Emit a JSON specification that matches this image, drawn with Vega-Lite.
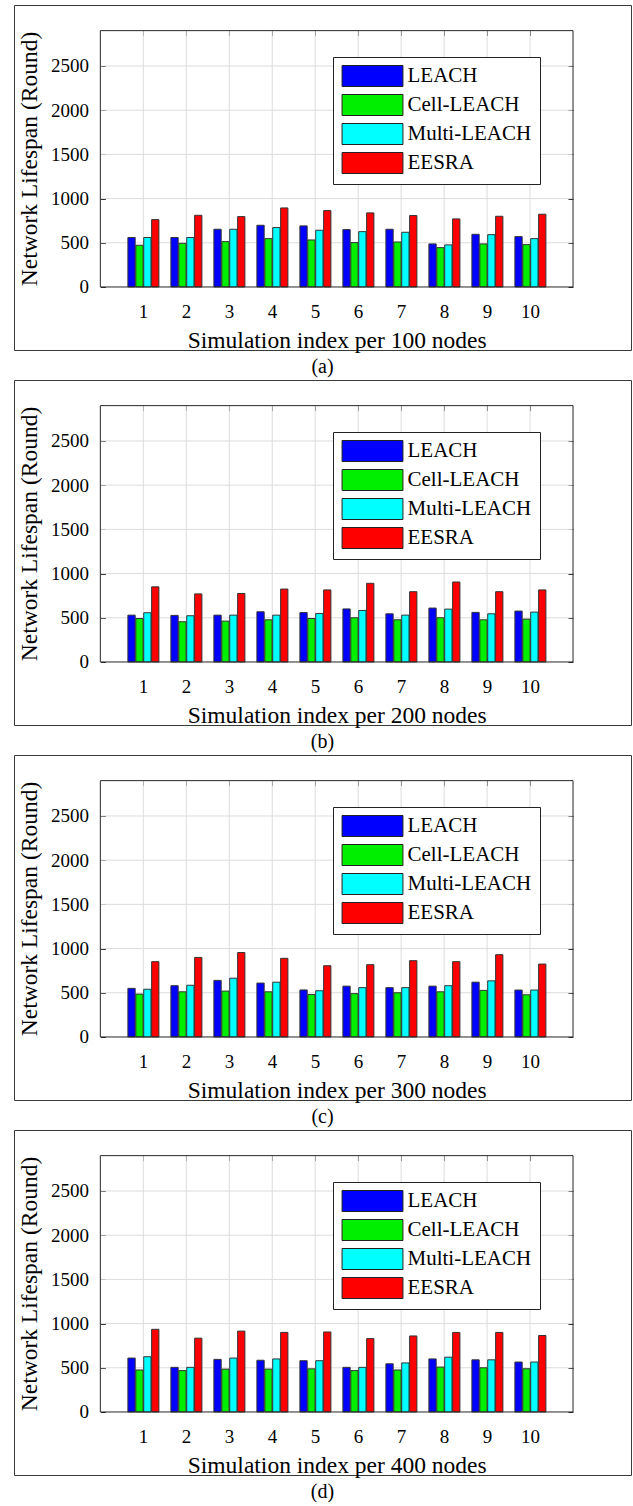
{
  "$schema": "https://vega.github.io/schema/vega-lite/v6.json",
  "padding": {"left": 13, "top": 4, "right": 3, "bottom": 0},
  "spacing": 2,
  "resolve": {"scale": {"color": "independent"}, "legend": {"color": "independent"}},
  "datasets": {
    "gridY": [{"v": 500}, {"v": 1000}, {"v": 1500}, {"v": 2000}, {"v": 2500}],
    "frame": [{"f": 1}],
    "lifespan": [
      {"nodes":100,"index":1,"protocol":"LEACH","value":560},{"nodes":100,"index":1,"protocol":"Cell-LEACH","value":472},{"nodes":100,"index":1,"protocol":"Multi-LEACH","value":560},{"nodes":100,"index":1,"protocol":"EESRA","value":762},
      {"nodes":100,"index":2,"protocol":"LEACH","value":560},{"nodes":100,"index":2,"protocol":"Cell-LEACH","value":494},{"nodes":100,"index":2,"protocol":"Multi-LEACH","value":560},{"nodes":100,"index":2,"protocol":"EESRA","value":811},
      {"nodes":100,"index":3,"protocol":"LEACH","value":653},{"nodes":100,"index":3,"protocol":"Cell-LEACH","value":513},{"nodes":100,"index":3,"protocol":"Multi-LEACH","value":653},{"nodes":100,"index":3,"protocol":"EESRA","value":796},
      {"nodes":100,"index":4,"protocol":"LEACH","value":698},{"nodes":100,"index":4,"protocol":"Cell-LEACH","value":547},{"nodes":100,"index":4,"protocol":"Multi-LEACH","value":672},{"nodes":100,"index":4,"protocol":"EESRA","value":894},
      {"nodes":100,"index":5,"protocol":"LEACH","value":691},{"nodes":100,"index":5,"protocol":"Cell-LEACH","value":532},{"nodes":100,"index":5,"protocol":"Multi-LEACH","value":642},{"nodes":100,"index":5,"protocol":"EESRA","value":864},
      {"nodes":100,"index":6,"protocol":"LEACH","value":649},{"nodes":100,"index":6,"protocol":"Cell-LEACH","value":502},{"nodes":100,"index":6,"protocol":"Multi-LEACH","value":626},{"nodes":100,"index":6,"protocol":"EESRA","value":838},
      {"nodes":100,"index":7,"protocol":"LEACH","value":653},{"nodes":100,"index":7,"protocol":"Cell-LEACH","value":509},{"nodes":100,"index":7,"protocol":"Multi-LEACH","value":619},{"nodes":100,"index":7,"protocol":"EESRA","value":808},
      {"nodes":100,"index":8,"protocol":"LEACH","value":487},{"nodes":100,"index":8,"protocol":"Cell-LEACH","value":445},{"nodes":100,"index":8,"protocol":"Multi-LEACH","value":476},{"nodes":100,"index":8,"protocol":"EESRA","value":770},
      {"nodes":100,"index":9,"protocol":"LEACH","value":596},{"nodes":100,"index":9,"protocol":"Cell-LEACH","value":487},{"nodes":100,"index":9,"protocol":"Multi-LEACH","value":592},{"nodes":100,"index":9,"protocol":"EESRA","value":800},
      {"nodes":100,"index":10,"protocol":"LEACH","value":570},{"nodes":100,"index":10,"protocol":"Cell-LEACH","value":479},{"nodes":100,"index":10,"protocol":"Multi-LEACH","value":547},{"nodes":100,"index":10,"protocol":"EESRA","value":823},

      {"nodes":200,"index":1,"protocol":"LEACH","value":530},{"nodes":200,"index":1,"protocol":"Cell-LEACH","value":492},{"nodes":200,"index":1,"protocol":"Multi-LEACH","value":557},{"nodes":200,"index":1,"protocol":"EESRA","value":850},
      {"nodes":200,"index":2,"protocol":"LEACH","value":527},{"nodes":200,"index":2,"protocol":"Cell-LEACH","value":455},{"nodes":200,"index":2,"protocol":"Multi-LEACH","value":523},{"nodes":200,"index":2,"protocol":"EESRA","value":770},
      {"nodes":200,"index":3,"protocol":"LEACH","value":530},{"nodes":200,"index":3,"protocol":"Cell-LEACH","value":462},{"nodes":200,"index":3,"protocol":"Multi-LEACH","value":530},{"nodes":200,"index":3,"protocol":"EESRA","value":775},
      {"nodes":200,"index":4,"protocol":"LEACH","value":568},{"nodes":200,"index":4,"protocol":"Cell-LEACH","value":477},{"nodes":200,"index":4,"protocol":"Multi-LEACH","value":530},{"nodes":200,"index":4,"protocol":"EESRA","value":825},
      {"nodes":200,"index":5,"protocol":"LEACH","value":559},{"nodes":200,"index":5,"protocol":"Cell-LEACH","value":492},{"nodes":200,"index":5,"protocol":"Multi-LEACH","value":549},{"nodes":200,"index":5,"protocol":"EESRA","value":815},
      {"nodes":200,"index":6,"protocol":"LEACH","value":600},{"nodes":200,"index":6,"protocol":"Cell-LEACH","value":500},{"nodes":200,"index":6,"protocol":"Multi-LEACH","value":583},{"nodes":200,"index":6,"protocol":"EESRA","value":890},
      {"nodes":200,"index":7,"protocol":"LEACH","value":545},{"nodes":200,"index":7,"protocol":"Cell-LEACH","value":477},{"nodes":200,"index":7,"protocol":"Multi-LEACH","value":530},{"nodes":200,"index":7,"protocol":"EESRA","value":795},
      {"nodes":200,"index":8,"protocol":"LEACH","value":610},{"nodes":200,"index":8,"protocol":"Cell-LEACH","value":500},{"nodes":200,"index":8,"protocol":"Multi-LEACH","value":598},{"nodes":200,"index":8,"protocol":"EESRA","value":905},
      {"nodes":200,"index":9,"protocol":"LEACH","value":561},{"nodes":200,"index":9,"protocol":"Cell-LEACH","value":477},{"nodes":200,"index":9,"protocol":"Multi-LEACH","value":545},{"nodes":200,"index":9,"protocol":"EESRA","value":795},
      {"nodes":200,"index":10,"protocol":"LEACH","value":576},{"nodes":200,"index":10,"protocol":"Cell-LEACH","value":485},{"nodes":200,"index":10,"protocol":"Multi-LEACH","value":564},{"nodes":200,"index":10,"protocol":"EESRA","value":815},

      {"nodes":300,"index":1,"protocol":"LEACH","value":550},{"nodes":300,"index":1,"protocol":"Cell-LEACH","value":485},{"nodes":300,"index":1,"protocol":"Multi-LEACH","value":540},{"nodes":300,"index":1,"protocol":"EESRA","value":852},
      {"nodes":300,"index":2,"protocol":"LEACH","value":580},{"nodes":300,"index":2,"protocol":"Cell-LEACH","value":511},{"nodes":300,"index":2,"protocol":"Multi-LEACH","value":585},{"nodes":300,"index":2,"protocol":"EESRA","value":900},
      {"nodes":300,"index":3,"protocol":"LEACH","value":640},{"nodes":300,"index":3,"protocol":"Cell-LEACH","value":519},{"nodes":300,"index":3,"protocol":"Multi-LEACH","value":665},{"nodes":300,"index":3,"protocol":"EESRA","value":955},
      {"nodes":300,"index":4,"protocol":"LEACH","value":610},{"nodes":300,"index":4,"protocol":"Cell-LEACH","value":511},{"nodes":300,"index":4,"protocol":"Multi-LEACH","value":620},{"nodes":300,"index":4,"protocol":"EESRA","value":890},
      {"nodes":300,"index":5,"protocol":"LEACH","value":532},{"nodes":300,"index":5,"protocol":"Cell-LEACH","value":481},{"nodes":300,"index":5,"protocol":"Multi-LEACH","value":523},{"nodes":300,"index":5,"protocol":"EESRA","value":806},
      {"nodes":300,"index":6,"protocol":"LEACH","value":575},{"nodes":300,"index":6,"protocol":"Cell-LEACH","value":490},{"nodes":300,"index":6,"protocol":"Multi-LEACH","value":558},{"nodes":300,"index":6,"protocol":"EESRA","value":818},
      {"nodes":300,"index":7,"protocol":"LEACH","value":558},{"nodes":300,"index":7,"protocol":"Cell-LEACH","value":500},{"nodes":300,"index":7,"protocol":"Multi-LEACH","value":558},{"nodes":300,"index":7,"protocol":"EESRA","value":863},
      {"nodes":300,"index":8,"protocol":"LEACH","value":575},{"nodes":300,"index":8,"protocol":"Cell-LEACH","value":511},{"nodes":300,"index":8,"protocol":"Multi-LEACH","value":580},{"nodes":300,"index":8,"protocol":"EESRA","value":852},
      {"nodes":300,"index":9,"protocol":"LEACH","value":620},{"nodes":300,"index":9,"protocol":"Cell-LEACH","value":527},{"nodes":300,"index":9,"protocol":"Multi-LEACH","value":635},{"nodes":300,"index":9,"protocol":"EESRA","value":931},
      {"nodes":300,"index":10,"protocol":"LEACH","value":531},{"nodes":300,"index":10,"protocol":"Cell-LEACH","value":477},{"nodes":300,"index":10,"protocol":"Multi-LEACH","value":531},{"nodes":300,"index":10,"protocol":"EESRA","value":825},

      {"nodes":400,"index":1,"protocol":"LEACH","value":610},{"nodes":400,"index":1,"protocol":"Cell-LEACH","value":475},{"nodes":400,"index":1,"protocol":"Multi-LEACH","value":625},{"nodes":400,"index":1,"protocol":"EESRA","value":935},
      {"nodes":400,"index":2,"protocol":"LEACH","value":505},{"nodes":400,"index":2,"protocol":"Cell-LEACH","value":468},{"nodes":400,"index":2,"protocol":"Multi-LEACH","value":505},{"nodes":400,"index":2,"protocol":"EESRA","value":835},
      {"nodes":400,"index":3,"protocol":"LEACH","value":595},{"nodes":400,"index":3,"protocol":"Cell-LEACH","value":485},{"nodes":400,"index":3,"protocol":"Multi-LEACH","value":610},{"nodes":400,"index":3,"protocol":"EESRA","value":915},
      {"nodes":400,"index":4,"protocol":"LEACH","value":585},{"nodes":400,"index":4,"protocol":"Cell-LEACH","value":485},{"nodes":400,"index":4,"protocol":"Multi-LEACH","value":600},{"nodes":400,"index":4,"protocol":"EESRA","value":900},
      {"nodes":400,"index":5,"protocol":"LEACH","value":580},{"nodes":400,"index":5,"protocol":"Cell-LEACH","value":488},{"nodes":400,"index":5,"protocol":"Multi-LEACH","value":580},{"nodes":400,"index":5,"protocol":"EESRA","value":905},
      {"nodes":400,"index":6,"protocol":"LEACH","value":505},{"nodes":400,"index":6,"protocol":"Cell-LEACH","value":468},{"nodes":400,"index":6,"protocol":"Multi-LEACH","value":505},{"nodes":400,"index":6,"protocol":"EESRA","value":830},
      {"nodes":400,"index":7,"protocol":"LEACH","value":545},{"nodes":400,"index":7,"protocol":"Cell-LEACH","value":475},{"nodes":400,"index":7,"protocol":"Multi-LEACH","value":555},{"nodes":400,"index":7,"protocol":"EESRA","value":860},
      {"nodes":400,"index":8,"protocol":"LEACH","value":600},{"nodes":400,"index":8,"protocol":"Cell-LEACH","value":508},{"nodes":400,"index":8,"protocol":"Multi-LEACH","value":620},{"nodes":400,"index":8,"protocol":"EESRA","value":900},
      {"nodes":400,"index":9,"protocol":"LEACH","value":590},{"nodes":400,"index":9,"protocol":"Cell-LEACH","value":500},{"nodes":400,"index":9,"protocol":"Multi-LEACH","value":590},{"nodes":400,"index":9,"protocol":"EESRA","value":900},
      {"nodes":400,"index":10,"protocol":"LEACH","value":565},{"nodes":400,"index":10,"protocol":"Cell-LEACH","value":489},{"nodes":400,"index":10,"protocol":"Multi-LEACH","value":565},{"nodes":400,"index":10,"protocol":"EESRA","value":865}
    ]
  },
  "config": {
    "font": "Liberation Serif",
    "view": {"stroke": "#3a3a3a", "strokeWidth": 1},
    "axis": {"labelFont": "Liberation Serif", "titleFont": "Liberation Serif", "labelFontSize": 19, "titleFontSize": 23.5, "titleFontWeight": "normal", "labelColor": "#000", "titleColor": "#000", "tickColor": "#262626", "domain": false, "grid": false},
    "title": {"font": "Liberation Serif", "fontSize": 20, "fontWeight": "normal", "color": "#000"}
  },
  "vconcat": [
    {
      "width": 617, "height": 345,
      "title": {"text": "(a)", "orient": "bottom", "offset": 5, "anchor": "middle"},
      "resolve": {"scale": {"x": "independent", "y": "independent"}},
      "layer": [
        {"data": {"name": "gridY"}, "mark": {"type": "rule", "color": "#dcdcdc", "strokeWidth": 1},
         "encoding": {"y": {"field": "v", "type": "quantitative", "scale": {"domain": [-713, 3190], "nice": false, "zero": false}, "axis": null},
                      "x": {"datum": 0, "type": "quantitative", "scale": {"domain": [-2.009, 12.349], "nice": false, "zero": false}, "axis": null},
                      "x2": {"datum": 11}}},
        {"data": {"name": "lifespan"}, "transform": [{"filter": "datum.nodes === 100 && datum.protocol === 'LEACH'"}],
         "mark": {"type": "rule", "color": "#dcdcdc", "strokeWidth": 1},
         "encoding": {"x": {"field": "index", "type": "quantitative", "scale": {"domain": [-2.009, 12.349], "nice": false, "zero": false}, "axis": null},
                      "y": {"datum": 0, "type": "quantitative", "scale": {"domain": [-713, 3190], "nice": false, "zero": false}, "axis": null},
                      "y2": {"datum": 2900}}},
        {"data": {"name": "lifespan"}, "transform": [{"filter": "datum.nodes === 100"}],
         "mark": {"type": "bar", "stroke": "#333", "strokeWidth": 1},
         "encoding": {
           "x": {"field": "index", "type": "ordinal", "scale": {"type": "band", "domain": [-1,0,1,2,3,4,5,6,7,8,9,10,11], "paddingInner": 0.279, "paddingOuter": 0.814, "align": 0.3986},
                 "axis": {"title": "Simulation index per 100 nodes", "orient": "bottom", "offset": -63, "values": [1,2,3,4,5,6,7,8,9,10], "labelAngle": 0, "bandPosition": 0.5, "tickSize": -5, "labelPadding": 20, "titleX": 322.7, "titleY": 41}},
           "xOffset": {"field": "protocol", "type": "nominal", "scale": {"domain": ["LEACH","Cell-LEACH","Multi-LEACH","EESRA"], "paddingInner": 0.08, "paddingOuter": 0}},
           "y": {"field": "value", "type": "quantitative", "scale": {"domain": [-713, 3190], "nice": false, "zero": false},
                 "axis": {"title": "Network Lifespan (Round)", "orient": "left", "offset": -86.4, "values": [0,500,1000,1500,2000,2500], "format": "d", "tickSize": -5, "labelPadding": 17, "titleX": -59, "titleY": 153.5}},
           "y2": {"datum": 0},
           "color": {"field": "protocol", "type": "nominal", "scale": {"domain": ["LEACH","Cell-LEACH","Multi-LEACH","EESRA"], "range": ["#0000ff","#00ee00","#00ffff","#ff0000"]},
                     "legend": {"orient": "none", "legendX": 319, "legendY": 52, "title": null, "symbolType": "M-2.9,-1H2.9V1H-2.9Z", "symbolSize": 441, "symbolStrokeColor": "#222", "symbolStrokeWidth": 1, "symbolOpacity": 1, "symbolOffset": 20.5, "labelOffset": 24, "labelFont": "Liberation Serif", "labelFontSize": 21, "labelColor": "#000", "rowPadding": 3, "padding": 8, "fillColor": "#ffffff", "strokeColor": "#222"}}
         }},
        {"data": {"name": "frame"}, "mark": {"type": "rect", "fillOpacity": 0, "stroke": "#262626", "strokeWidth": 1},
         "encoding": {"x": {"datum": 0, "type": "quantitative", "scale": {"domain": [-2.009, 12.349], "nice": false, "zero": false},
                            "axis": {"orient": "top", "offset": -25.6, "values": [1,2,3,4,5,6,7,8,9,10], "labels": false, "tickSize": -5, "title": null}},
                      "x2": {"datum": 11},
                      "y": {"datum": 0, "type": "quantitative", "scale": {"domain": [-713, 3190], "nice": false, "zero": false},
                            "axis": {"orient": "right", "offset": -58, "values": [0,500,1000,1500,2000,2500], "labels": false, "tickSize": -5, "title": null}},
                      "y2": {"datum": 2900}}}
      ]
    },
    {
      "width": 617, "height": 345,
      "title": {"text": "(b)", "orient": "bottom", "offset": 5, "anchor": "middle"},
      "resolve": {"scale": {"x": "independent", "y": "independent"}},
      "layer": [
        {"data": {"name": "gridY"}, "mark": {"type": "rule", "color": "#dcdcdc", "strokeWidth": 1},
         "encoding": {"y": {"field": "v", "type": "quantitative", "scale": {"domain": [-713, 3190], "nice": false, "zero": false}, "axis": null},
                      "x": {"datum": 0, "type": "quantitative", "scale": {"domain": [-2.009, 12.349], "nice": false, "zero": false}, "axis": null},
                      "x2": {"datum": 11}}},
        {"data": {"name": "lifespan"}, "transform": [{"filter": "datum.nodes === 200 && datum.protocol === 'LEACH'"}],
         "mark": {"type": "rule", "color": "#dcdcdc", "strokeWidth": 1},
         "encoding": {"x": {"field": "index", "type": "quantitative", "scale": {"domain": [-2.009, 12.349], "nice": false, "zero": false}, "axis": null},
                      "y": {"datum": 0, "type": "quantitative", "scale": {"domain": [-713, 3190], "nice": false, "zero": false}, "axis": null},
                      "y2": {"datum": 2900}}},
        {"data": {"name": "lifespan"}, "transform": [{"filter": "datum.nodes === 200"}],
         "mark": {"type": "bar", "stroke": "#333", "strokeWidth": 1},
         "encoding": {
           "x": {"field": "index", "type": "ordinal", "scale": {"type": "band", "domain": [-1,0,1,2,3,4,5,6,7,8,9,10,11], "paddingInner": 0.279, "paddingOuter": 0.814, "align": 0.3986},
                 "axis": {"title": "Simulation index per 200 nodes", "orient": "bottom", "offset": -63, "values": [1,2,3,4,5,6,7,8,9,10], "labelAngle": 0, "bandPosition": 0.5, "tickSize": -5, "labelPadding": 20, "titleX": 322.7, "titleY": 41}},
           "xOffset": {"field": "protocol", "type": "nominal", "scale": {"domain": ["LEACH","Cell-LEACH","Multi-LEACH","EESRA"], "paddingInner": 0.08, "paddingOuter": 0}},
           "y": {"field": "value", "type": "quantitative", "scale": {"domain": [-713, 3190], "nice": false, "zero": false},
                 "axis": {"title": "Network Lifespan (Round)", "orient": "left", "offset": -86.4, "values": [0,500,1000,1500,2000,2500], "format": "d", "tickSize": -5, "labelPadding": 17, "titleX": -59, "titleY": 153.5}},
           "y2": {"datum": 0},
           "color": {"field": "protocol", "type": "nominal", "scale": {"domain": ["LEACH","Cell-LEACH","Multi-LEACH","EESRA"], "range": ["#0000ff","#00ee00","#00ffff","#ff0000"]},
                     "legend": {"orient": "none", "legendX": 319, "legendY": 52, "title": null, "symbolType": "M-2.9,-1H2.9V1H-2.9Z", "symbolSize": 441, "symbolStrokeColor": "#222", "symbolStrokeWidth": 1, "symbolOpacity": 1, "symbolOffset": 20.5, "labelOffset": 24, "labelFont": "Liberation Serif", "labelFontSize": 21, "labelColor": "#000", "rowPadding": 3, "padding": 8, "fillColor": "#ffffff", "strokeColor": "#222"}}
         }},
        {"data": {"name": "frame"}, "mark": {"type": "rect", "fillOpacity": 0, "stroke": "#262626", "strokeWidth": 1},
         "encoding": {"x": {"datum": 0, "type": "quantitative", "scale": {"domain": [-2.009, 12.349], "nice": false, "zero": false},
                            "axis": {"orient": "top", "offset": -25.6, "values": [1,2,3,4,5,6,7,8,9,10], "labels": false, "tickSize": -5, "title": null}},
                      "x2": {"datum": 11},
                      "y": {"datum": 0, "type": "quantitative", "scale": {"domain": [-713, 3190], "nice": false, "zero": false},
                            "axis": {"orient": "right", "offset": -58, "values": [0,500,1000,1500,2000,2500], "labels": false, "tickSize": -5, "title": null}},
                      "y2": {"datum": 2900}}}
      ]
    },
    {
      "width": 617, "height": 345,
      "title": {"text": "(c)", "orient": "bottom", "offset": 5, "anchor": "middle"},
      "resolve": {"scale": {"x": "independent", "y": "independent"}},
      "layer": [
        {"data": {"name": "gridY"}, "mark": {"type": "rule", "color": "#dcdcdc", "strokeWidth": 1},
         "encoding": {"y": {"field": "v", "type": "quantitative", "scale": {"domain": [-713, 3190], "nice": false, "zero": false}, "axis": null},
                      "x": {"datum": 0, "type": "quantitative", "scale": {"domain": [-2.009, 12.349], "nice": false, "zero": false}, "axis": null},
                      "x2": {"datum": 11}}},
        {"data": {"name": "lifespan"}, "transform": [{"filter": "datum.nodes === 300 && datum.protocol === 'LEACH'"}],
         "mark": {"type": "rule", "color": "#dcdcdc", "strokeWidth": 1},
         "encoding": {"x": {"field": "index", "type": "quantitative", "scale": {"domain": [-2.009, 12.349], "nice": false, "zero": false}, "axis": null},
                      "y": {"datum": 0, "type": "quantitative", "scale": {"domain": [-713, 3190], "nice": false, "zero": false}, "axis": null},
                      "y2": {"datum": 2900}}},
        {"data": {"name": "lifespan"}, "transform": [{"filter": "datum.nodes === 300"}],
         "mark": {"type": "bar", "stroke": "#333", "strokeWidth": 1},
         "encoding": {
           "x": {"field": "index", "type": "ordinal", "scale": {"type": "band", "domain": [-1,0,1,2,3,4,5,6,7,8,9,10,11], "paddingInner": 0.279, "paddingOuter": 0.814, "align": 0.3986},
                 "axis": {"title": "Simulation index per 300 nodes", "orient": "bottom", "offset": -63, "values": [1,2,3,4,5,6,7,8,9,10], "labelAngle": 0, "bandPosition": 0.5, "tickSize": -5, "labelPadding": 20, "titleX": 322.7, "titleY": 41}},
           "xOffset": {"field": "protocol", "type": "nominal", "scale": {"domain": ["LEACH","Cell-LEACH","Multi-LEACH","EESRA"], "paddingInner": 0.08, "paddingOuter": 0}},
           "y": {"field": "value", "type": "quantitative", "scale": {"domain": [-713, 3190], "nice": false, "zero": false},
                 "axis": {"title": "Network Lifespan (Round)", "orient": "left", "offset": -86.4, "values": [0,500,1000,1500,2000,2500], "format": "d", "tickSize": -5, "labelPadding": 17, "titleX": -59, "titleY": 153.5}},
           "y2": {"datum": 0},
           "color": {"field": "protocol", "type": "nominal", "scale": {"domain": ["LEACH","Cell-LEACH","Multi-LEACH","EESRA"], "range": ["#0000ff","#00ee00","#00ffff","#ff0000"]},
                     "legend": {"orient": "none", "legendX": 319, "legendY": 52, "title": null, "symbolType": "M-2.9,-1H2.9V1H-2.9Z", "symbolSize": 441, "symbolStrokeColor": "#222", "symbolStrokeWidth": 1, "symbolOpacity": 1, "symbolOffset": 20.5, "labelOffset": 24, "labelFont": "Liberation Serif", "labelFontSize": 21, "labelColor": "#000", "rowPadding": 3, "padding": 8, "fillColor": "#ffffff", "strokeColor": "#222"}}
         }},
        {"data": {"name": "frame"}, "mark": {"type": "rect", "fillOpacity": 0, "stroke": "#262626", "strokeWidth": 1},
         "encoding": {"x": {"datum": 0, "type": "quantitative", "scale": {"domain": [-2.009, 12.349], "nice": false, "zero": false},
                            "axis": {"orient": "top", "offset": -25.6, "values": [1,2,3,4,5,6,7,8,9,10], "labels": false, "tickSize": -5, "title": null}},
                      "x2": {"datum": 11},
                      "y": {"datum": 0, "type": "quantitative", "scale": {"domain": [-713, 3190], "nice": false, "zero": false},
                            "axis": {"orient": "right", "offset": -58, "values": [0,500,1000,1500,2000,2500], "labels": false, "tickSize": -5, "title": null}},
                      "y2": {"datum": 2900}}}
      ]
    },
    {
      "width": 617, "height": 345,
      "title": {"text": "(d)", "orient": "bottom", "offset": 5, "anchor": "middle"},
      "resolve": {"scale": {"x": "independent", "y": "independent"}},
      "layer": [
        {"data": {"name": "gridY"}, "mark": {"type": "rule", "color": "#dcdcdc", "strokeWidth": 1},
         "encoding": {"y": {"field": "v", "type": "quantitative", "scale": {"domain": [-713, 3190], "nice": false, "zero": false}, "axis": null},
                      "x": {"datum": 0, "type": "quantitative", "scale": {"domain": [-2.009, 12.349], "nice": false, "zero": false}, "axis": null},
                      "x2": {"datum": 11}}},
        {"data": {"name": "lifespan"}, "transform": [{"filter": "datum.nodes === 400 && datum.protocol === 'LEACH'"}],
         "mark": {"type": "rule", "color": "#dcdcdc", "strokeWidth": 1},
         "encoding": {"x": {"field": "index", "type": "quantitative", "scale": {"domain": [-2.009, 12.349], "nice": false, "zero": false}, "axis": null},
                      "y": {"datum": 0, "type": "quantitative", "scale": {"domain": [-713, 3190], "nice": false, "zero": false}, "axis": null},
                      "y2": {"datum": 2900}}},
        {"data": {"name": "lifespan"}, "transform": [{"filter": "datum.nodes === 400"}],
         "mark": {"type": "bar", "stroke": "#333", "strokeWidth": 1},
         "encoding": {
           "x": {"field": "index", "type": "ordinal", "scale": {"type": "band", "domain": [-1,0,1,2,3,4,5,6,7,8,9,10,11], "paddingInner": 0.279, "paddingOuter": 0.814, "align": 0.3986},
                 "axis": {"title": "Simulation index per 400 nodes", "orient": "bottom", "offset": -63, "values": [1,2,3,4,5,6,7,8,9,10], "labelAngle": 0, "bandPosition": 0.5, "tickSize": -5, "labelPadding": 20, "titleX": 322.7, "titleY": 41}},
           "xOffset": {"field": "protocol", "type": "nominal", "scale": {"domain": ["LEACH","Cell-LEACH","Multi-LEACH","EESRA"], "paddingInner": 0.08, "paddingOuter": 0}},
           "y": {"field": "value", "type": "quantitative", "scale": {"domain": [-713, 3190], "nice": false, "zero": false},
                 "axis": {"title": "Network Lifespan (Round)", "orient": "left", "offset": -86.4, "values": [0,500,1000,1500,2000,2500], "format": "d", "tickSize": -5, "labelPadding": 17, "titleX": -59, "titleY": 153.5}},
           "y2": {"datum": 0},
           "color": {"field": "protocol", "type": "nominal", "scale": {"domain": ["LEACH","Cell-LEACH","Multi-LEACH","EESRA"], "range": ["#0000ff","#00ee00","#00ffff","#ff0000"]},
                     "legend": {"orient": "none", "legendX": 319, "legendY": 52, "title": null, "symbolType": "M-2.9,-1H2.9V1H-2.9Z", "symbolSize": 441, "symbolStrokeColor": "#222", "symbolStrokeWidth": 1, "symbolOpacity": 1, "symbolOffset": 20.5, "labelOffset": 24, "labelFont": "Liberation Serif", "labelFontSize": 21, "labelColor": "#000", "rowPadding": 3, "padding": 8, "fillColor": "#ffffff", "strokeColor": "#222"}}
         }},
        {"data": {"name": "frame"}, "mark": {"type": "rect", "fillOpacity": 0, "stroke": "#262626", "strokeWidth": 1},
         "encoding": {"x": {"datum": 0, "type": "quantitative", "scale": {"domain": [-2.009, 12.349], "nice": false, "zero": false},
                            "axis": {"orient": "top", "offset": -25.6, "values": [1,2,3,4,5,6,7,8,9,10], "labels": false, "tickSize": -5, "title": null}},
                      "x2": {"datum": 11},
                      "y": {"datum": 0, "type": "quantitative", "scale": {"domain": [-713, 3190], "nice": false, "zero": false},
                            "axis": {"orient": "right", "offset": -58, "values": [0,500,1000,1500,2000,2500], "labels": false, "tickSize": -5, "title": null}},
                      "y2": {"datum": 2900}}}
      ]
    }
  ]
}
